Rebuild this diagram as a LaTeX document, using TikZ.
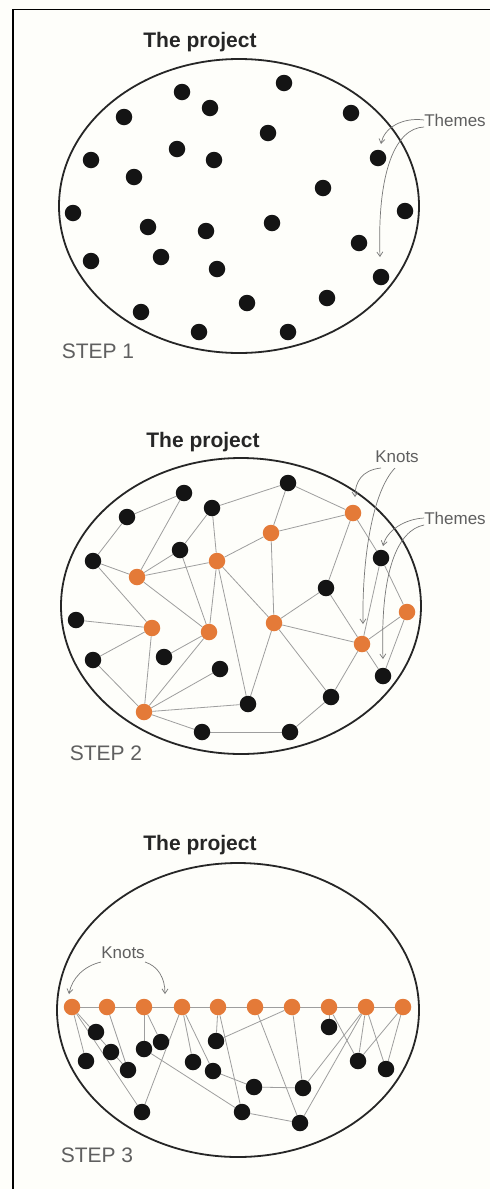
\documentclass[tikz,border=0pt]{standalone}
\usepackage{fontspec}
\setmainfont{Liberation Sans}
\usetikzlibrary{arrows.meta}
\definecolor{knotc}{RGB}{228,122,56}
\definecolor{edgec}{RGB}{158,158,158}
\definecolor{lblc}{RGB}{95,95,95}
\definecolor{bgc}{RGB}{254,254,250}
\pgfdeclarelayer{back}
\pgfdeclarelayer{links}
\pgfsetlayers{back,links,main}
\tikzset{
  theme/.style={circle, fill=black!92, inner sep=0pt, minimum size=16.5pt},
  knot/.style={circle, fill=knotc, inner sep=0pt, minimum size=16.5pt},
  link/.style={draw=edgec, line width=0.8pt},
  title/.style={inner sep=0pt, font=\fontsize{21}{24}\selectfont\bfseries, text=black!85},
  steplbl/.style={inner sep=0pt, font=\fontsize{21}{24}\selectfont, text=lblc},
  note/.style={inner sep=0pt, font=\fontsize{17}{20}\selectfont, text=lblc},
  pointer/.style={draw=lblc!85, line width=0.7pt, -{Straight Barb[length=4.5pt,width=6pt]}},
  project/.style={draw=black!85, line width=1.8pt},
}
\begin{document}
\begin{tikzpicture}[x=1pt,y=-1pt]
\useasboundingbox (0,0) rectangle (490,1189);
\begin{pgfonlayer}{back}
\fill[bgc] (0,0) rectangle (490,1189);
\end{pgfonlayer}
\draw[line width=1.6pt] (13,1189) -- (13,9.5) -- (490,9.5);

% ---------------- STEP 1 ----------------
\node[title] (t1) at (200,42) {The project};
\draw[project] (239,206) ellipse [x radius=180pt, y radius=147pt];
\node[steplbl] (s1) at (98,351) {STEP 1};
\foreach \n/\x/\y in {1/182/92,2/284/83,3/210/108,4/124/117,5/351/113,6/268/133,7/177/149,
  8/214/160,9/91/160,10/378/158,11/134/177,12/323/188,13/73/213,14/405/211,15/148/227,
  16/206/231,17/272/223,18/359/243,19/91/261,20/161/257,21/217/269,22/381/277,23/141/312,
  24/247/303,25/327/298,26/199/332,27/288/332}
  \node[theme] (a\n) at (\x,\y) {};
\node[note] (th1) at (455,120) {Themes};
\coordinate (th1e1) at (381,144);
\coordinate (th1e2) at (380,257);
\draw[pointer] (th1.west) .. controls (402,117) and (384,128) .. (th1e1);
\draw[pointer] ([yshift=-7pt]th1.west) .. controls (396,128) and (377,170) .. (th1e2);

% ---------------- STEP 2 ----------------
\node[title] (t2) at (203,442) {The project};
\draw[project] (241,606) ellipse [x radius=180pt, y radius=148pt];
\node[steplbl] (s2) at (106,753) {STEP 2};
\foreach \n/\x/\y in {1/288/483,2/184/493,3/212/508,4/127/517,5/180/550,6/93/561,7/381/558,
  8/326/588,9/76/620,10/93/660,11/164/657,12/220/669,13/383/676,14/331/697,15/248/704,
  16/202/732,17/290/732}
  \node[theme] (b\n) at (\x,\y) {};
\foreach \n/\x/\y in {1/353/513,2/271/533,3/217/561,4/137/577,5/407/612,6/152/628,
  7/209/632,8/274/623,9/362/644,10/144/712}
  \node[knot] (o\n) at (\x,\y) {};
\begin{pgfonlayer}{links}
\foreach \u/\v in {b4/b2,b6/b4,b6/o4,b6/o6,b2/o4,b5/o4,b3/b5,b3/o3,b3/b1,b1/o2,b1/o1,
  o1/o2,o2/o3,o2/o8,o3/o4,o3/o7,o3/b15,o3/o8,b5/o7,o4/o7,b9/o6,b10/o6,b10/o10,o6/o10,
  b11/o7,o7/o10,b12/o10,b15/o10,o10/b16,b16/b17,b17/b14,b14/o9,o8/b15,o8/b14,o8/b8,
  o8/o9,b8/o9,o1/b8,o1/b7,b7/o5,b7/o9,o9/o5,o5/b13,o9/b13}
  \draw[link] (\u) -- (\v);
\end{pgfonlayer}
\node[note] (kn2) at (397,457) {Knots};
\node[note] (th2) at (455,518) {Themes};
\coordinate (kn2e1) at (355,497);
\coordinate (kn2e2) at (363,624);
\coordinate (th2e1) at (383,546);
\coordinate (th2e2) at (383,659);
\draw[pointer] ([xshift=-16pt,yshift=-11pt]kn2.center) .. controls (362,470) and (355,482) .. (kn2e1);
\draw[pointer] ([xshift=-2pt,yshift=-11pt]kn2.center) .. controls (372,492) and (362,560) .. (kn2e2);
\draw[pointer] (th2.west) .. controls (405,519) and (387,530) .. (th2e1);
\draw[pointer] ([yshift=-7pt]th2.west) .. controls (398,530) and (380,570) .. (th2e2);

% ---------------- STEP 3 ----------------
\node[title] (t3) at (200,845) {The project};
\draw[project] (238,1010) ellipse [x radius=181pt, y radius=147pt];
\node[steplbl] (s3) at (97,1155) {STEP 3};
\foreach \n/\x in {1/72,2/107,3/144,4/182,5/218,6/255,7/292,8/329,9/366,10/403}
  \node[knot] (k\n) at (\x,1007) {};
\foreach \n/\x/\y in {1/96/1032,2/86/1061,3/111/1052,4/128/1070,5/144/1049,6/161/1042,
  7/216/1041,8/193/1062,9/213/1071,10/329/1027,11/358/1061,12/386/1069,13/254/1087,
  14/303/1088,15/142/1112,16/242/1112,17/300/1123}
  \node[theme] (c\n) at (\x,\y) {};
\begin{pgfonlayer}{links}
\draw[link] (k1) -- (k10);
\foreach \u/\v in {k1/c2,k1/c15,k1/c4,k2/c4,k3/c5,k3/c6,k4/c15,k4/c8,k4/c9,k5/c7,k5/c16,
  c7/k7,k6/c17,k7/c14,k8/c10,k8/c11,k9/c11,k9/c12,k9/c14,k9/c17,k10/c11,k10/c12,
  c13/c14,c16/c17,c9/c13,c5/c16}
  \draw[link] (\u) -- (\v);
\end{pgfonlayer}
\node[note] (kn3) at (123,953) {Knots};
\coordinate (kn3e1) at (69,994);
\coordinate (kn3e2) at (165,994);
\draw[pointer] ([xshift=-22pt,yshift=-9pt]kn3.center) .. controls (84,966) and (72,978) .. (kn3e1);
\draw[pointer] ([xshift=22pt,yshift=-9pt]kn3.center) .. controls (158,966) and (165,978) .. (kn3e2);
\end{tikzpicture}
\end{document}
